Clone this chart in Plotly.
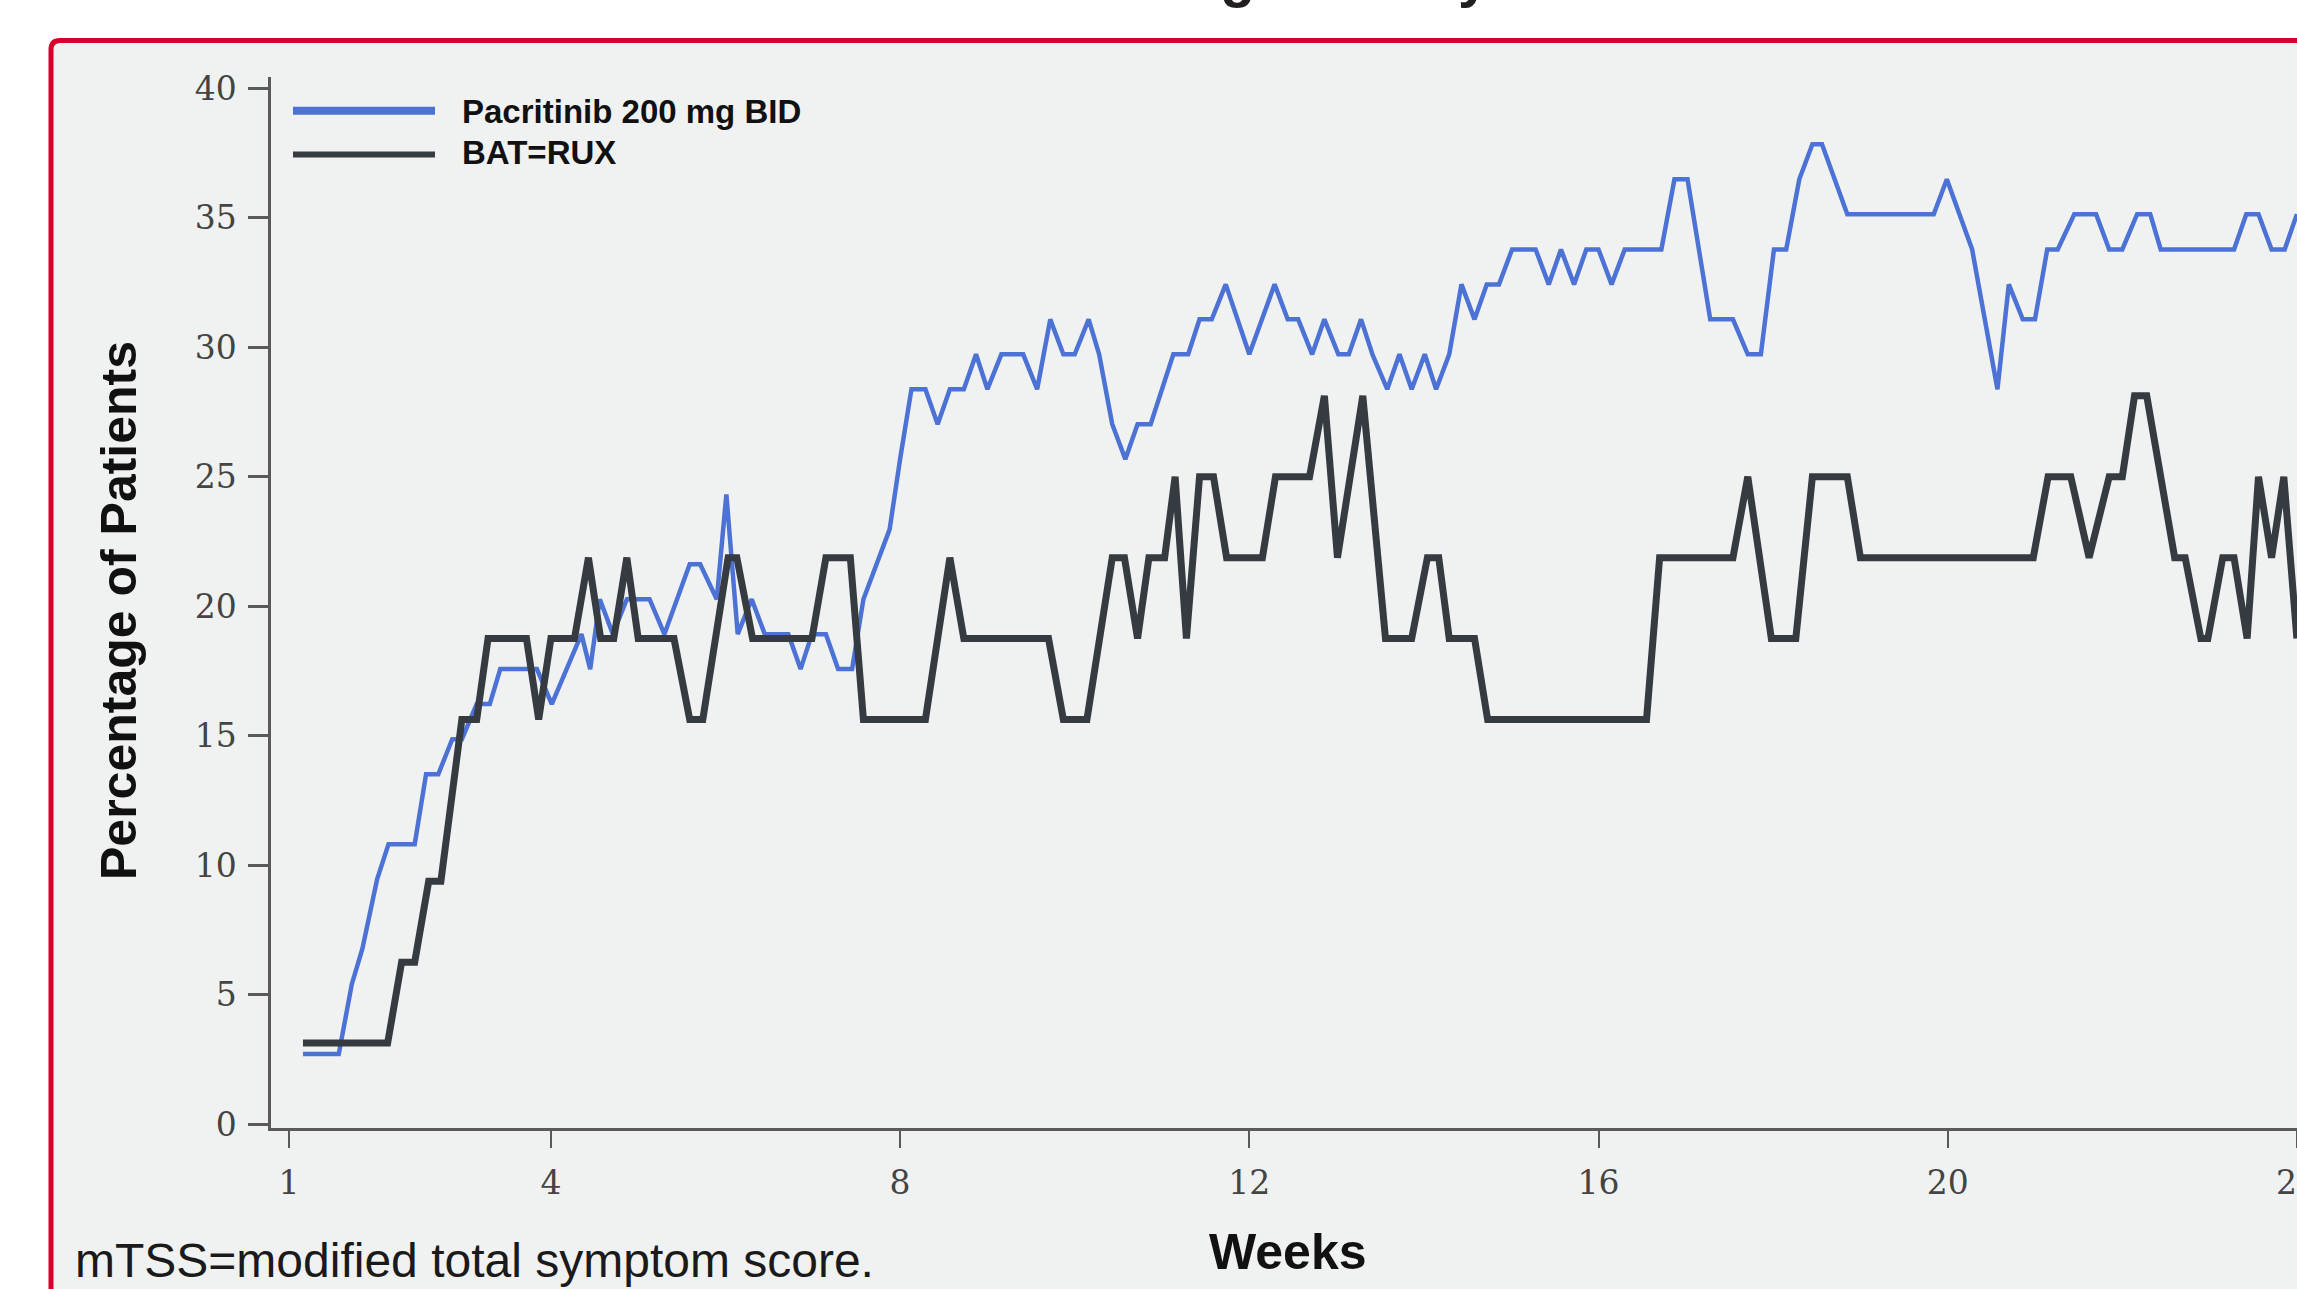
import plotly.graph_objects as go

# Percentage of patients with >=50% mTSS reduction, by study week
pac_weeks = [1.16, 1.57, 1.72, 1.84, 2.01, 2.14, 2.44, 2.57, 2.71, 2.87, 2.98, 3.15, 3.30, 3.42,
             3.84, 4.01, 4.35, 4.45, 4.56, 4.71, 4.87, 5.13, 5.30, 5.59, 5.71, 5.90, 6.01, 6.14,
             6.30, 6.45, 6.72, 6.86, 6.99, 7.15, 7.29, 7.45, 7.58, 7.73, 7.88, 8.00, 8.13, 8.29,
             8.43, 8.57, 8.73, 8.87, 9.00, 9.16, 9.41, 9.57, 9.72, 9.87, 10.00, 10.16, 10.28,
             10.43, 10.58, 10.72, 10.87, 11.13, 11.30, 11.43, 11.57, 11.73, 12.00, 12.29, 12.44,
             12.56, 12.72, 12.86, 13.02, 13.14, 13.28, 13.41, 13.58, 13.72, 13.86, 14.01, 14.14,
             14.29, 14.43, 14.58, 14.72, 14.86, 15.01, 15.28, 15.43, 15.57, 15.72, 15.86, 16.00,
             16.15, 16.30, 16.72, 16.87, 17.02, 17.28, 17.54, 17.71, 17.86, 18.01, 18.15, 18.30,
             18.45, 18.56, 18.85, 19.84, 19.99, 20.14, 20.28, 20.57, 20.70, 20.86, 21.00, 21.14,
             21.26, 21.45, 21.70, 21.85, 22.00, 22.17, 22.32, 22.44, 23.28, 23.42, 23.56, 23.71,
             23.86, 24.00]
pac_pct = [2.70, 2.70, 5.41, 6.76, 9.46, 10.81, 10.81, 13.51, 13.51, 14.86, 14.86, 16.22, 16.22, 17.57,
           17.57, 16.22, 18.92, 17.57, 20.27, 18.92, 20.27, 20.27, 18.92, 21.62, 21.62, 20.27, 24.32, 18.92,
           20.27, 18.92, 18.92, 17.57, 18.92, 18.92, 17.57, 17.57, 20.27, 21.62, 22.97, 25.68, 28.38, 28.38,
           27.03, 28.38, 28.38, 29.73, 28.38, 29.73, 29.73, 28.38, 31.08, 29.73, 29.73, 31.08, 29.73,
           27.03, 25.68, 27.03, 27.03, 29.73, 29.73, 31.08, 31.08, 32.43, 29.73, 32.43, 31.08,
           31.08, 29.73, 31.08, 29.73, 29.73, 31.08, 29.73, 28.38, 29.73, 28.38, 29.73, 28.38,
           29.73, 32.43, 31.08, 32.43, 32.43, 33.78, 33.78, 32.43, 33.78, 32.43, 33.78, 33.78,
           32.43, 33.78, 33.78, 36.49, 36.49, 31.08, 31.08, 29.73, 29.73, 33.78, 33.78, 36.49,
           37.84, 37.84, 35.14, 35.14, 36.49, 35.14, 33.78, 28.38, 32.43, 31.08, 31.08, 33.78,
           33.78, 35.14, 35.14, 33.78, 33.78, 35.14, 35.14, 33.78, 33.78, 35.14, 35.14, 33.78,
           33.78, 35.14]

bat_weeks = [1.16, 2.13, 2.29, 2.44, 2.60, 2.74, 2.98, 3.15, 3.28, 3.72, 3.86, 4.00, 4.27, 4.43,
             4.57, 4.72, 4.87, 5.00, 5.41, 5.59, 5.74, 6.03, 6.13, 6.31, 6.99, 7.15, 7.43, 7.58,
             8.29, 8.57, 8.73, 9.70, 9.87, 10.14, 10.43, 10.57, 10.72, 10.85, 11.03, 11.15, 11.28,
             11.43, 11.59, 11.74, 12.15, 12.30, 12.69, 12.86, 13.01, 13.30, 13.56, 13.86, 14.04,
             14.17, 14.29, 14.58, 14.73, 16.55, 16.70, 17.54, 17.71, 17.98, 18.26, 18.45, 18.85,
             19.00, 20.98, 21.15, 21.41, 21.62, 21.85, 22.00, 22.14, 22.28, 22.60, 22.72, 22.90,
             22.98, 23.15, 23.28, 23.43, 23.56, 23.71, 23.85, 24.00]
bat_pct = [3.125, 3.125, 6.25, 6.25, 9.375, 9.375, 15.625, 15.625, 18.75, 18.75, 15.625, 18.75, 18.75, 21.875,
           18.75, 18.75, 21.875, 18.75, 18.75, 15.625, 15.625, 21.875, 21.875, 18.75, 18.75, 21.875, 21.875, 15.625,
           15.625, 21.875, 18.75, 18.75, 15.625, 15.625, 21.875, 21.875, 18.75, 21.875, 21.875, 25.0, 18.75,
           25.0, 25.0, 21.875, 21.875, 25.0, 25.0, 28.125, 21.875, 28.125, 18.75, 18.75, 21.875,
           21.875, 18.75, 18.75, 15.625, 15.625, 21.875, 21.875, 25.0, 18.75, 18.75, 25.0, 25.0,
           21.875, 21.875, 25.0, 25.0, 21.875, 25.0, 25.0, 28.125, 28.125, 21.875, 21.875, 18.75,
           18.75, 21.875, 21.875, 18.75, 25.0, 21.875, 25.0, 18.75]

x_ticks = [1, 4, 8, 12, 16, 20, 24]
y_ticks = [0, 5, 10, 15, 20, 25, 30, 35, 40]

series_names = ["Pacritinib 200 mg BID", "BAT=RUX"]
series_colors = ["#4d72d6", "#353b41"]

# page geometry (pixels)
W, H = 2297, 1289
L, R, T, B = 271, 0, 77, 161
PW, PH = W - L - R, H - T - B


def px(xp):
    return (xp - L) / PW


def py(yp):
    return (H - B - yp) / PH


fig = go.Figure()
fig.add_trace(go.Scatter(x=pac_weeks, y=pac_pct, mode="lines", name=series_names[0],
                         line=dict(color=series_colors[0], width=4.5)))
fig.add_trace(go.Scatter(x=bat_weeks, y=bat_pct, mode="lines", name=series_names[1],
                         line=dict(color=series_colors[1], width=7)))

# slide panel with red frame and rounded top-left corner
x0, y0, x1, y1 = px(51), py(40.5), px(2400), py(1400)
rx, ry = 9 / PW, 9 / PH
panel_path = (f"M{x0},{y1} L{x0},{y0 - ry} Q{x0},{y0} {x0 + rx},{y0} "
              f"L{x1},{y0} L{x1},{y1} Z")
shapes = [dict(type="path", path=panel_path, xref="paper", yref="paper",
               fillcolor="#f0f2f1", line=dict(color="#d5002f", width=5), layer="below")]

# legend keys
for yk, col, wk in [(110.8, series_colors[0], 8), (154.5, series_colors[1], 6)]:
    shapes.append(dict(type="line", xref="paper", yref="paper",
                       x0=px(293), x1=px(435), y0=py(yk), y1=py(yk),
                       line=dict(color=col, width=wk)))

annotations = [
    dict(text=series_names[0], x=px(460), y=py(111.6), xref="paper", yref="paper",
         xanchor="left", yanchor="middle", showarrow=False,
         font=dict(family="Arial", size=33, color="#111111", weight="bold")),
    dict(text=series_names[1], x=px(460), y=py(152.8), xref="paper", yref="paper",
         xanchor="left", yanchor="middle", showarrow=False,
         font=dict(family="Arial", size=33, color="#111111", weight="bold")),
    dict(text="Percentage of Patients", x=px(119), y=py(611), xref="paper", yref="paper",
         xanchor="center", yanchor="middle", textangle=-90, showarrow=False,
         font=dict(family="Arial", size=50, color="#111111", weight="bold")),
    dict(text="Weeks", x=px(1288), y=py(1252), xref="paper", yref="paper",
         xanchor="center", yanchor="middle", showarrow=False,
         font=dict(family="Arial", size=50, color="#111111", weight="bold")),
    dict(text="mTSS=modified total symptom score.", x=px(73), y=py(1260), xref="paper",
         yref="paper", xanchor="left", yanchor="middle", showarrow=False,
         font=dict(family="Arial", size=48, color="#1a1a1a")),
    dict(text="Pacritinib Demonstrates Strong Efficacy", x=px(1492), y=py(10), xref="paper",
         yref="paper", xanchor="right", yanchor="bottom", showarrow=False,
         font=dict(family="Arial", size=57, color="#231f20", weight="bold")),
]

tick_font = dict(family="DejaVu Serif", size=33, color="#444444")

fig.update_layout(
    width=W, height=H,
    margin=dict(l=L, r=R, t=T, b=B, pad=0),
    paper_bgcolor="#ffffff",
    plot_bgcolor="rgba(0,0,0,0)",
    showlegend=False,
    shapes=shapes,
    annotations=annotations,
    xaxis=dict(range=[1 - 18 / 87.3, 1 - 18 / 87.3 + PW / 87.3], tickvals=x_ticks,
               ticktext=[str(v) for v in x_ticks], showgrid=False, zeroline=False,
               showline=True, linecolor="#5a5a5a", linewidth=3, ticks="outside",
               ticklen=17, tickwidth=2, tickcolor="#5a5a5a", tickfont=tick_font,
               automargin=False, ticklabelstandoff=6, ticklabeloverflow="allow"),
    yaxis=dict(range=[-4 / 25.89, (1124 - T) / 25.89], tickvals=y_ticks,
               ticktext=[str(v) for v in y_ticks], showgrid=False, zeroline=False,
               showline=True, linecolor="#5a5a5a", linewidth=2.5, ticks="outside",
               ticklen=20, tickwidth=2.5, tickcolor="#5a5a5a", tickfont=tick_font,
               automargin=False, ticklabelstandoff=5, ticklabeloverflow="allow"),
)

fig.write_html("out.html")
